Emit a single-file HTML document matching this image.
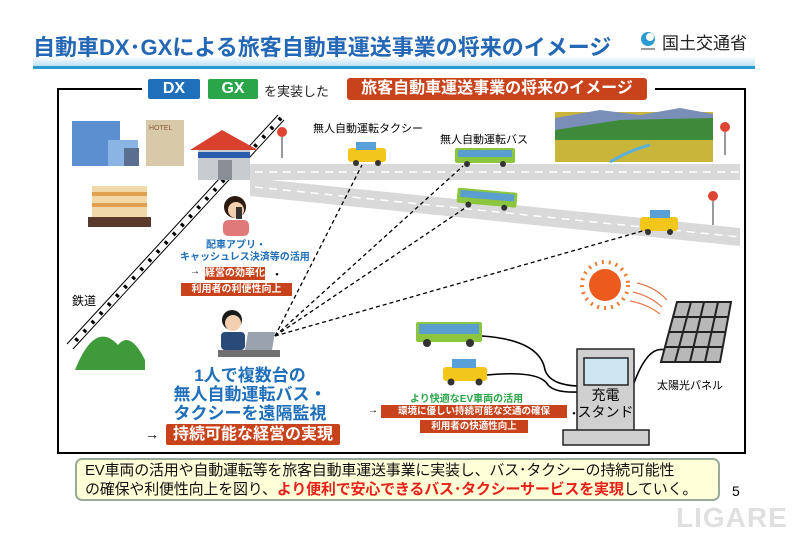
<!DOCTYPE html>
<html><head><meta charset="utf-8"><style>
*{margin:0;padding:0;box-sizing:border-box}
body{width:800px;height:533px;background:#fff;position:relative;overflow:hidden;font-family:"Liberation Sans","Noto Sans CJK JP",sans-serif}
.a{position:absolute;white-space:nowrap}
.r{background:#c8431b;color:#fff;font-weight:bold}
.b{color:#1f6fba;font-weight:bold}
</style></head><body>
<svg class="a" style="left:0;top:0" width="800" height="533">
<defs><linearGradient id="g" x1="0" y1="0" x2="0" y2="1"><stop offset="0" stop-color="#fff"/><stop offset="1" stop-color="#bfe0f4"/></linearGradient></defs>
<rect x="33" y="56" width="722" height="10" fill="url(#g)"/>
<rect x="33" y="66" width="722" height="3" fill="#2a9bd0"/>
<path d="M142 89 H58 V453 H745 V89 H655" fill="none" stroke="#000" stroke-width="2"/>
<rect x="250" y="164" width="490" height="16" fill="#d9d9d9"/>
<line x1="255" y1="172" x2="740" y2="172" stroke="#fff" stroke-width="1.5" stroke-dasharray="8 6"/>
<polygon points="250,178 740,228 740,246 250,196" fill="#d9d9d9"/>
<line x1="255" y1="187" x2="740" y2="237" stroke="#fff" stroke-width="1.5" stroke-dasharray="8 6"/>
<line x1="278" y1="115" x2="67" y2="344" stroke="#000" stroke-width="1"/>
<line x1="284" y1="120" x2="73" y2="349" stroke="#000" stroke-width="1"/>
<line x1="281" y1="118" x2="70" y2="347" stroke="#000" stroke-width="4" stroke-dasharray="3 9"/>
<rect x="72" y="121" width="48" height="45" fill="#5b8fd0"/><rect x="108" y="140" width="30" height="26" fill="#8ab4e4"/><rect x="124" y="148" width="15" height="18" fill="#5a6f90"/>
<rect x="146" y="120" width="38" height="46" fill="#d8c9a9"/><text x="149" y="130" font-size="7" fill="#8a5a3a" font-family="Liberation Sans">HOTEL</text>
<rect x="92" y="186" width="55" height="40" fill="#f0d8a8"/><rect x="92" y="192" width="55" height="4" fill="#e0a050"/><rect x="92" y="203" width="55" height="4" fill="#e0a050"/><rect x="88" y="217" width="63" height="10" fill="#5a3a2a"/>
<polygon points="190,150 222,130 258,150" fill="#d9412f"/><rect x="198" y="150" width="52" height="30" fill="#c8ccd0"/><rect x="198" y="152" width="52" height="6" fill="#2a5db0"/><rect x="218" y="160" width="14" height="20" fill="#8a8f96"/>
<circle cx="282" cy="132" r="5" fill="#d43"/><line x1="282" y1="137" x2="282" y2="158" stroke="#999" stroke-width="2"/>
<circle cx="725" cy="127" r="5" fill="#d43"/><line x1="725" y1="132" x2="725" y2="155" stroke="#999" stroke-width="2"/>
<circle cx="713" cy="196" r="5" fill="#d43"/><line x1="713" y1="201" x2="713" y2="225" stroke="#999" stroke-width="2"/>
<rect x="555" y="112" width="158" height="50" fill="#c9b53a"/><polygon points="555,118 600,110 640,115 680,108 713,114 713,130 555,132" fill="#7a8fb8"/><polygon points="555,130 620,120 713,118 713,140 555,140" fill="#3f8a3a"/><path d="M610 162 Q630 150 650 145" stroke="#5ab0d8" stroke-width="3" fill="none"/>
<path d="M75 370 Q95 320 118 345 Q130 330 145 360 V370 Z" fill="#3f9a3a"/>
<g><rect x="348" y="148" width="38" height="14" rx="3" fill="#f3c61c"/><rect x="356" y="142" width="20" height="8" fill="#5aa0d8"/><circle cx="356" cy="163" r="3" fill="#333"/><circle cx="378" cy="163" r="3" fill="#333"/></g>
<g><rect x="455" y="148" width="60" height="15" rx="2" fill="#8cc63f"/><rect x="458" y="150" width="54" height="7" fill="#5a9ed0"/><circle cx="467" cy="164" r="3" fill="#333"/><circle cx="503" cy="164" r="3" fill="#333"/></g>
<g transform="rotate(5 485 198)"><rect x="457" y="190" width="60" height="15" rx="2" fill="#8cc63f"/><rect x="460" y="192" width="54" height="7" fill="#5a9ed0"/><circle cx="469" cy="206" r="3" fill="#333"/><circle cx="505" cy="206" r="3" fill="#333"/></g>
<g><rect x="640" y="217" width="38" height="14" rx="3" fill="#f3c61c"/><rect x="650" y="210" width="20" height="8" fill="#5aa0d8"/><circle cx="648" cy="232" r="3" fill="#333"/><circle cx="670" cy="232" r="3" fill="#333"/></g>
<g><rect x="416" y="322" width="66" height="20" rx="2" fill="#8cc63f"/><rect x="419" y="324" width="60" height="10" fill="#5a9ed0"/><circle cx="427" cy="343" r="4" fill="#333"/><circle cx="470" cy="343" r="4" fill="#333"/></g>
<g><rect x="443" y="367" width="44" height="14" rx="3" fill="#f3c61c"/><rect x="452" y="359" width="24" height="9" fill="#5aa0d8"/><circle cx="451" cy="382" r="3.5" fill="#333"/><circle cx="479" cy="382" r="3.5" fill="#333"/></g>
<circle cx="235" cy="207" r="11" fill="#2a1a10"/><circle cx="236" cy="210" r="8" fill="#f5d0b0"/><rect x="223" y="220" width="26" height="16" rx="5" fill="#e07a7a"/><rect x="236" y="207" width="6" height="12" fill="#333"/>
<circle cx="232" cy="320" r="10" fill="#1a1a1a"/><circle cx="233" cy="323" r="8" fill="#f5d0b0"/><rect x="221" y="332" width="24" height="18" rx="4" fill="#2a4a7a"/><polygon points="248,332 275,332 272,350 245,350" fill="#9aa3ad"/><rect x="218" y="350" width="62" height="7" fill="#707070"/>
<g stroke="#000" stroke-width="1.3" stroke-dasharray="4 3" fill="none">
<line x1="275" y1="336" x2="362" y2="165"/><line x1="275" y1="336" x2="463" y2="166"/><line x1="275" y1="336" x2="465" y2="208"/><line x1="275" y1="336" x2="646" y2="230"/></g>
<g stroke="#000" stroke-width="1.6" fill="none"><path d="M482 336 Q540 340 545 370 Q550 385 578 386"/><path d="M487 375 Q540 370 548 385 Q555 393 578 392"/><path d="M634 383 Q648 345 665 350"/></g>
<rect x="577" y="349" width="57" height="82" fill="#d0d0d0" stroke="#222" stroke-width="1.5"/><rect x="584" y="358" width="44" height="27" fill="#cde6f2" stroke="#222" stroke-width="1.5"/>
<rect x="563" y="430" width="86" height="15" fill="#d0d0d0" stroke="#222" stroke-width="1.5"/>
<circle cx="605" cy="285" r="16" fill="#ec5a1e"/><circle cx="605" cy="285" r="23" fill="none" stroke="#ec7a2e" stroke-width="4" stroke-dasharray="2 5"/>
<g stroke="#e9764a" stroke-width="1.2" fill="none"><path d="M637 283 Q655 287 667 300"/><path d="M633 292 Q650 296 662 307"/><path d="M630 301 Q647 304 660 314"/></g>
<polygon points="677,302 731,302 720,362 661,362" fill="#b8b8b8" stroke="#222" stroke-width="2"/>
<g stroke="#222" stroke-width="2"><line x1="673" y1="317" x2="728" y2="317"/><line x1="669" y1="332" x2="725" y2="332"/><line x1="665" y1="347" x2="722" y2="347"/><line x1="691" y1="302" x2="675" y2="362"/><line x1="704" y1="302" x2="690" y2="362"/><line x1="718" y1="302" x2="705" y2="362"/></g>
<circle cx="648" cy="39" r="7" fill="#2a9bd0"/><circle cx="650" cy="37" r="4" fill="#fff"/><rect x="641" y="48" width="14" height="2" fill="#999"/>
</svg>
<div class="a" style="left:33px;top:30px;font-size:22px;font-weight:bold;color:#2467b4;letter-spacing:0px">自動車DX･GXによる旅客自動車運送事業の将来のイメージ</div>
<div class="a" style="left:662px;top:29px;font-size:17px;color:#222">国土交通省</div>
<div class="a" style="left:148px;top:79px;width:52px;height:20px;background:#1f6fba;color:#fff;font-weight:bold;font-size:16px;text-align:center;line-height:20px;border-radius:2px">DX</div>
<div class="a" style="left:208px;top:79px;width:50px;height:20px;background:#2aa54a;color:#fff;font-weight:bold;font-size:16px;text-align:center;line-height:20px;border-radius:2px">GX</div>
<div class="a" style="left:264px;top:81px;font-size:13px;color:#222">を実装した</div>
<div class="a r" style="left:347px;top:78px;width:300px;height:22px;font-size:16px;text-align:center;line-height:22px;border-radius:3px">旅客自動車運送事業の将来のイメージ</div>
<div class="a" style="left:313px;top:120px;font-size:11px">無人自動運転タクシー</div>
<div class="a" style="left:440px;top:131px;font-size:11px">無人自動運転バス</div>
<div class="a" style="left:72px;top:292px;font-size:12px">鉄道</div>
<div class="a b" style="left:180px;top:240px;width:112px;text-align:center;font-size:10px;line-height:12px">配車アプリ・<br>キャッシュレス決済等の活用</div>
<div class="a" style="left:190px;top:266px;font-size:10px;font-weight:bold">→</div>
<div class="a r" style="left:205px;top:267px;width:60px;height:13px;font-size:10px;line-height:13px;text-align:center">経営の効率化</div>
<div class="a" style="left:272px;top:266px;font-size:10px;font-weight:bold">・</div>
<div class="a r" style="left:181px;top:283px;width:111px;height:13px;font-size:10px;line-height:13px;text-align:center">利用者の利便性向上</div>
<div class="a b" style="left:170px;top:366px;width:160px;text-align:center;font-size:17px;line-height:19px">1人で複数台の<br>無人自動運転バス・<br>タクシーを遠隔監視</div>
<div class="a" style="left:145px;top:426px;font-size:14px;font-weight:bold">→</div>
<div class="a r" style="left:166px;top:424px;width:174px;height:21px;font-size:16px;line-height:21px;text-align:center;border-radius:2px">持続可能な経営の実現</div>
<div class="a" style="left:410px;top:390px;font-size:10px;font-weight:bold;color:#2aa54a">より快適なEV車両の活用</div>
<div class="a" style="left:368px;top:405px;font-size:10px;font-weight:bold">→</div>
<div class="a r" style="left:381px;top:405px;width:186px;height:13px;font-size:9.5px;line-height:13px;text-align:center">環境に優しい持続可能な交通の確保</div>
<div class="a" style="left:569px;top:405px;font-size:10px;font-weight:bold">・</div>
<div class="a r" style="left:420px;top:420px;width:108px;height:13px;font-size:9.5px;line-height:13px;text-align:center">利用者の快適性向上</div>
<div class="a" style="left:577px;top:387px;width:57px;text-align:center;font-size:14px;line-height:17px">充電<br>スタンド</div>
<div class="a" style="left:657px;top:377px;font-size:11px">太陽光パネル</div>
<div class="a" style="left:75px;top:458px;width:645px;height:43px;background:#ffffd8;border:2px solid #9aaa9a;border-radius:7px;font-size:15px;line-height:19px;padding:1px 0 0 8px;color:#111;letter-spacing:-0.2px">EV車両の活用や自動運転等を旅客自動車運送事業に実装し、バス･タクシーの持続可能性<br>の確保や利便性向上を図り、<b style="color:#e5211a">より便利で安心できるバス･タクシーサービスを実現</b>していく。</div>
<div class="a" style="left:732px;top:483px;font-size:14px">5</div>
<div class="a" style="left:676px;top:502px;font-size:28px;font-weight:bold;color:#e0e0e0;letter-spacing:1px">LIGARE</div>
</body></html>
